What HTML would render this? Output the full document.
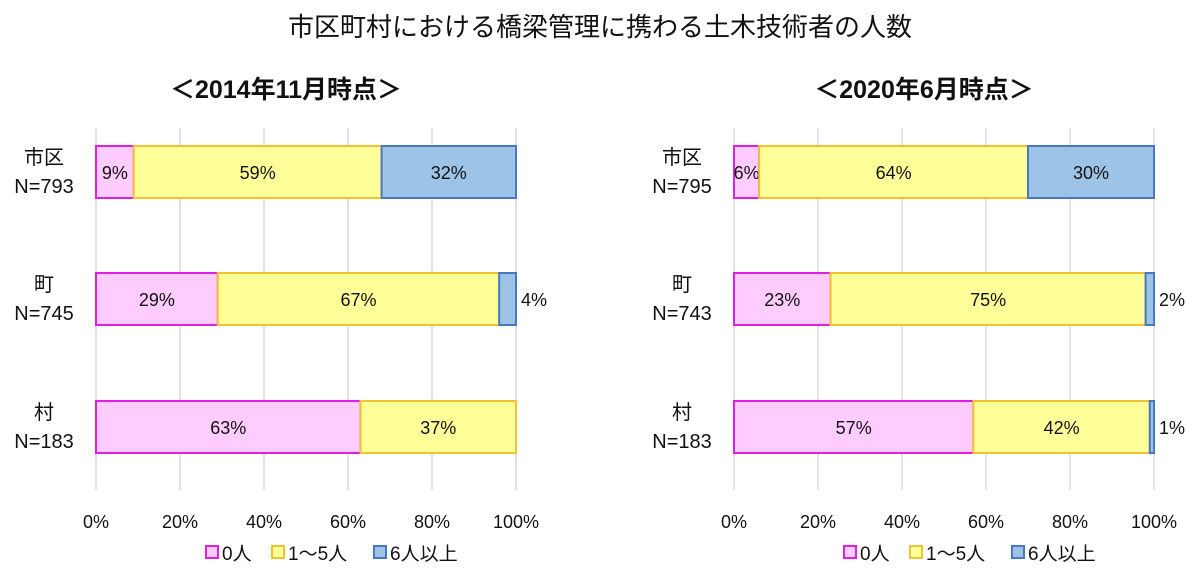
<!DOCTYPE html>
<html><head><meta charset="utf-8"><style>
body{margin:0;background:#fff;}
svg text{font-family:"Liberation Sans","Noto Sans CJK JP",sans-serif;fill:#111;}
</style></head><body>
<svg id="c" width="1200" height="576" xmlns="http://www.w3.org/2000/svg">
<text x="600" y="36" text-anchor="middle" font-size="26">市区町村における橋梁管理に携わる土木技術者の人数</text>
</svg>
<script>
const categories = ["市区","町","村"];
const nLeft = ["N=793","N=745","N=183"];
const nRight = ["N=795","N=743","N=183"];
const zeroLeft = [9,29,63];
const midLeft = [59,67,37];
const sixLeft = [32,4,0];
const zeroRight = [6,23,57];
const midRight = [64,75,42];
const sixRight = [30,2,1];
const ticks = [0,20,40,60,80,100];
const seriesNames = ["0人","1～5人","6人以上"];
const fills = ["#ffccff","#ffff99","#9dc3e6"];
const strokes = ["#e020e0","#f2c232","#4a78c0"];
const svg = document.getElementById('c');
const NS = "http://www.w3.org/2000/svg";
function mk(tag, attrs, txt){const e=document.createElementNS(NS,tag);for(const k in attrs)e.setAttribute(k,attrs[k]);if(txt!==undefined)e.textContent=txt;svg.appendChild(e);return e;}
const rowY = [146,273,401], barH = 52;
function panel(x0, title, ns, s0, s1, s2, side){
  const W = 420; const xs = v => x0 + v/100*W;
  let t = mk('text',{x:x0+W/2-20,y:98,'text-anchor':'middle','font-size':25,'font-weight':'bold'},title);
   
  ticks.forEach(v=>{
    let l = mk('line',{x1:xs(v),x2:xs(v),y1:128,y2:490,stroke:'#d9d9d9','stroke-width':1.5});
     
    let tt = mk('text',{x:xs(v),y:528,'text-anchor':'middle','font-size':18},v+'%');
     
  });
  const series=[s0,s1,s2];
  categories.forEach((c,i)=>{
    const y=rowY[i];
    let a = mk('text',{x:x0-52,y:y+18,'text-anchor':'middle','font-size':20},c);
     
    let b = mk('text',{x:x0-52,y:y+47,'text-anchor':'middle','font-size':20},ns[i]);
     
    let acc=0;
    series.forEach((s,k)=>{
      const v=s[i]; if(!v){return;}
      let r = mk('rect',{x:xs(acc),y:y,width:xs(acc+v)-xs(acc),height:barH,fill:fills[k],stroke:strokes[k],'stroke-width':2});
       
      const small = v<5;
      let lt = mk('text',{x:small?xs(100)+18:xs(acc+v/2),y:y+barH/2+7,'text-anchor':'middle','font-size':18},v+'%');
       
      acc+=v;
    });
  });
  let lx = x0+110;
  seriesNames.forEach((n,k)=>{
    let r = mk('rect',{x:lx,y:546,width:12,height:12,fill:fills[k],stroke:strokes[k],'stroke-width':2});
     
    let t2 = mk('text',{x:lx+16,y:560,'font-size':19},n);
     
    lx += 16 + n.length*18 + 14;
  });
}
panel(96,"＜2014年11月時点＞",nLeft,zeroLeft,midLeft,sixLeft,'left');
panel(734,"＜2020年6月時点＞",nRight,zeroRight,midRight,sixRight,'right');
</script>
</body></html>
